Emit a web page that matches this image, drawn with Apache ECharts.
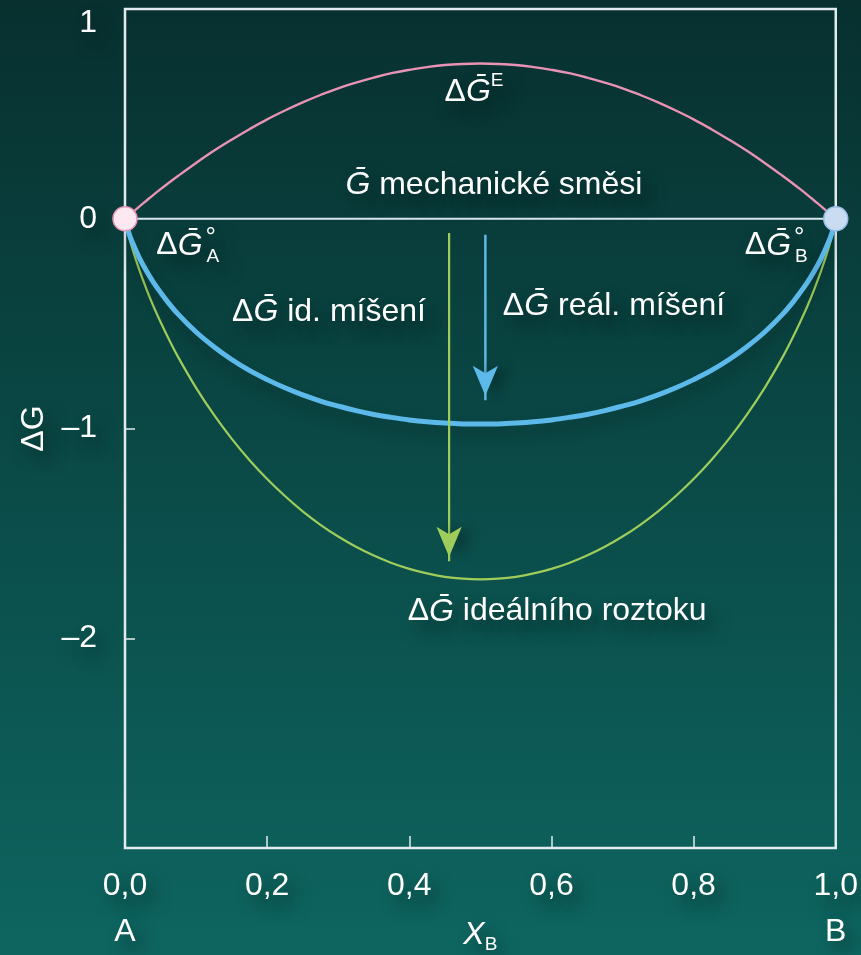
<!DOCTYPE html>
<html>
<head>
<meta charset="utf-8">
<script src="https://cdn.jsdelivr.net/npm/echarts@6/dist/echarts.min.js"></script>
<style>
  html, body { margin: 0; padding: 0; background: #0b4a48; }
  #chart { width: 861px; height: 955px; }
</style>
</head>
<body>
<div id="chart"></div>
<script>
// Mole fraction of component B
const xB = [0, 0.005, 0.01, 0.02, 0.03, 0.04, 0.05, 0.06, 0.075, 0.1, 0.125, 0.15, 0.175, 0.2, 0.225, 0.25,
            0.275, 0.3, 0.325, 0.35, 0.375, 0.4, 0.425, 0.45, 0.475, 0.5,
            0.525, 0.55, 0.575, 0.6, 0.625, 0.65, 0.675, 0.7, 0.725, 0.75, 0.775, 0.8, 0.825, 0.85,
            0.875, 0.9, 0.925, 0.94, 0.95, 0.96, 0.97, 0.98, 0.99, 0.995, 1];
// Excess Gibbs energy  ΔḠ^E
const excessG = [0, 0.015, 0.029, 0.058, 0.086, 0.114, 0.141, 0.167, 0.205, 0.266, 0.324, 0.377, 0.427, 0.474, 0.516, 0.555,
                 0.590, 0.622, 0.649, 0.673, 0.694, 0.710, 0.723, 0.733, 0.738, 0.740,
                 0.738, 0.733, 0.723, 0.710, 0.694, 0.673, 0.649, 0.622, 0.590, 0.555, 0.516, 0.474, 0.427, 0.377,
                 0.324, 0.266, 0.205, 0.167, 0.141, 0.114, 0.086, 0.058, 0.029, 0.015, 0];
// Gibbs energy of ideal mixing
const idealG = [0, -0.078, -0.139, -0.243, -0.334, -0.417, -0.492, -0.563, -0.661, -0.806, -0.934, -1.048, -1.150, -1.241, -1.322, -1.395,
                -1.459, -1.515, -1.564, -1.606, -1.641, -1.669, -1.691, -1.707, -1.716, -1.719,
                -1.716, -1.707, -1.691, -1.669, -1.641, -1.606, -1.564, -1.515, -1.459, -1.395, -1.322, -1.241, -1.150, -1.048,
                -0.934, -0.806, -0.661, -0.563, -0.492, -0.417, -0.334, -0.243, -0.139, -0.078, 0];
// Gibbs energy of real mixing
const realG = [0, -0.063, -0.110, -0.185, -0.248, -0.303, -0.351, -0.396, -0.456, -0.540, -0.610, -0.671, -0.723, -0.767, -0.806, -0.840,
               -0.869, -0.893, -0.915, -0.933, -0.947, -0.959, -0.968, -0.974, -0.978, -0.979,
               -0.978, -0.974, -0.968, -0.959, -0.947, -0.933, -0.915, -0.893, -0.869, -0.840, -0.806, -0.767, -0.723, -0.671,
               -0.610, -0.540, -0.456, -0.396, -0.351, -0.303, -0.248, -0.185, -0.110, -0.063, 0];
// Mechanical mixture line and pure components A, B
const mechX = [0, 1];
const mechY = [0, 0];
const pureX = [0, 1];
const pureY = [0, 0];
// Arrows: x position, start value, tip value
const idealArrow = [0.456, -0.068, -1.683];
const realArrow = [0.507, -0.076, -0.915];
// Axis ticks
const xTicks = [0, 0.2, 0.4, 0.6, 0.8, 1.0];
const yTicks = [1, 0, -1, -2];

const FONT = "'Liberation Sans', 'DejaVu Sans', Arial, sans-serif";
const WHITE = '#ffffff';
const FRAME = '#e2ebed';
const PINK = '#e892b4';
const BLUE = '#5db9ea';
const GREEN = '#9fcd5b';
const FS = 32;

const zip = (xs, ys) => xs.map((x, i) => [x, ys[i]]);

const shadow = {
  textShadowColor: 'rgba(0, 18, 18, 0.55)',
  textShadowBlur: 16,
  textShadowOffsetX: 8,
  textShadowOffsetY: 10
};

const rich = {
  n:   { fontSize: FS, fontFamily: FONT, color: WHITE, lineHeight: 42 },
  g:   { fontSize: FS, fontFamily: FONT, color: WHITE, fontStyle: 'italic', lineHeight: 42 },
  sup: { fontSize: 19, fontFamily: FONT, color: WHITE, verticalAlign: 'top', lineHeight: 26 },
  deg: { fontSize: 26, fontFamily: FONT, color: WHITE, verticalAlign: 'top', lineHeight: 24, width: 0, padding: [0, 0, 0, 3] },
  sub: { fontSize: 19, fontFamily: FONT, color: WHITE, verticalAlign: 'bottom', lineHeight: 18, padding: [0, 0, 0, 1] }
};

function note(x, y, text, align) {
  return {
    value: [x, y],
    label: {
      show: true, formatter: text, position: [0, 0], opacity: 1,
      align: align || 'center', verticalAlign: 'middle', rich: rich, ...shadow
    }
  };
}

const notes = [
  note(0.491, 0.605, '{n|Δ}{g|Ḡ}{sup|E}'),
  note(0.519, 0.160, '{g|Ḡ}{n| mechanické směsi}'),
  note(0.044, -0.128, '{n|Δ}{g|Ḡ}{deg|°}{sub|A}', 'left'),
  note(0.872, -0.128, '{n|Δ}{g|Ḡ}{deg|°}{sub|B}', 'left'),
  note(0.287, -0.445, '{n|Δ}{g|Ḡ}{n| id. míšení}'),
  note(0.688, -0.418, '{n|Δ}{g|Ḡ}{n| reál. míšení}'),
  note(0.608, -1.873, '{n|Δ}{g|Ḡ}{n| ideálního roztoku}')
];

const chart = echarts.init(document.getElementById('chart'), null, { renderer: 'canvas' });

chart.setOption({
  backgroundColor: new echarts.graphic.LinearGradient(0, 0, 0, 1, [
    { offset: 0, color: '#07302f' },
    { offset: 0.45, color: '#0a4845' },
    { offset: 1, color: '#0e6560' }
  ]),
  animation: false,
  textStyle: { fontFamily: FONT },
  grid: {
    left: 125, right: 18, top: 9, bottom: 107,
    show: true, borderColor: FRAME, borderWidth: 2.5, backgroundColor: 'transparent'
  },
  xAxis: [
    {
      type: 'value', min: 0, max: 1, interval: 0.2,
      axisLine: { show: false, onZero: false },
      axisTick: { show: true, inside: true, length: 12, lineStyle: { color: FRAME, width: 1.5 } },
      splitLine: { show: false },
      axisLabel: {
        show: true, margin: 22, color: WHITE, fontSize: FS, fontFamily: FONT,
        showMinLabel: true, showMaxLabel: true,
        formatter: v => xTicks.some(t => Math.abs(t - v) < 1e-9) ? v.toFixed(1).replace('.', ',') : '',
        ...shadow
      }
    },
    {
      type: 'value', min: 0, max: 1, interval: 0.5, position: 'bottom', offset: 46,
      axisLine: { show: false, onZero: false }, axisTick: { show: false }, splitLine: { show: false },
      axisLabel: {
        show: true, margin: 22, color: WHITE, fontSize: FS, fontFamily: FONT,
        showMinLabel: true, showMaxLabel: true,
        formatter: v => v === 0 ? 'A' : (v === 1 ? 'B' : '{x|X}{s|B}'),
        rich: {
          x: { fontSize: FS, fontFamily: FONT, color: WHITE, fontStyle: 'italic', lineHeight: 38 },
          s: { fontSize: 19, fontFamily: FONT, color: WHITE, verticalAlign: 'bottom', lineHeight: 14 }
        },
        ...shadow
      }
    }
  ],
  yAxis: {
    type: 'value', min: -3, max: 1, interval: 1,
    name: 'ΔG', nameLocation: 'middle', nameGap: 72, nameRotate: 90,
    nameTextStyle: { color: WHITE, fontSize: FS, fontFamily: FONT, ...shadow },
    axisLine: { show: false, onZero: false },
    axisTick: { show: true, inside: true, length: 10, lineStyle: { color: FRAME, width: 1.5 } },
    splitLine: { show: false },
    axisLabel: {
      show: true, margin: 28, color: WHITE, fontSize: FS, fontFamily: FONT,
      formatter: v => {
        if (!yTicks.includes(v)) return '';
        if (v === 1) return '{top|1}';
        return v < 0 ? '–' + Math.abs(v) : String(v);
      },
      rich: { top: { fontSize: FS, fontFamily: FONT, color: WHITE, padding: [28, 0, 0, 0] } },
      ...shadow
    }
  },
  series: [
    {
      name: 'mechanical mixture', type: 'line', data: zip(mechX, mechY),
      symbol: 'none', lineStyle: { color: '#d9e8f0', width: 2.2 }, z: 2
    },
    {
      name: 'excess', type: 'line', data: zip(xB, excessG), smooth: 0.4,
      symbol: 'none', lineStyle: { color: PINK, width: 2.4 }, z: 3
    },
    {
      name: 'ideal', type: 'line', data: zip(xB, idealG), smooth: 0.4,
      symbol: 'none', lineStyle: { color: GREEN, width: 2.2 }, z: 3
    },
    {
      name: 'real', type: 'line', data: zip(xB, realG), smooth: 0.4,
      symbol: 'none',
      lineStyle: { color: BLUE, width: 5, shadowColor: 'rgba(0,20,20,0.35)', shadowBlur: 14, shadowOffsetY: 8 },
      z: 4
    },
    {
      name: 'ideal arrow', type: 'line',
      data: [[idealArrow[0], idealArrow[1]], [idealArrow[0], idealArrow[2] + 0.05]],
      symbol: 'none', lineStyle: { color: GREEN, width: 2.2 }, z: 5
    },
    {
      name: 'real arrow', type: 'line',
      data: [[realArrow[0], realArrow[1]], [realArrow[0], realArrow[2] + 0.05]],
      symbol: 'none', lineStyle: { color: BLUE, width: 2.5 }, z: 5
    },
    {
      name: 'arrow heads', type: 'scatter',
      data: [
        { value: [idealArrow[0], idealArrow[2]], itemStyle: { color: GREEN } },
        { value: [realArrow[0], realArrow[2]], itemStyle: { color: BLUE } }
      ],
      symbol: 'arrow', symbolSize: [19, 30], symbolRotate: 180, symbolOffset: [0, -15],
      itemStyle: { opacity: 1, shadowColor: 'rgba(0,20,20,0.4)', shadowBlur: 12, shadowOffsetX: 10 },
      z: 6
    },
    {
      name: 'pure components', type: 'scatter', clip: false,
      data: [
        { value: [pureX[0], pureY[0]], itemStyle: { color: '#fde7f0', borderColor: '#e895b6', borderWidth: 1.5 } },
        { value: [pureX[1], pureY[1]], itemStyle: { color: '#c9dcf1', borderColor: '#98bde4', borderWidth: 1.5 } }
      ],
      itemStyle: { opacity: 1 },
      symbol: 'circle', symbolSize: 24, z: 8
    },
    {
      name: 'notes', type: 'scatter', clip: false, silent: true,
      data: notes, symbolSize: 0, itemStyle: { color: 'transparent', opacity: 1 }, z: 9
    }
  ]
});
</script>
</body>
</html>
